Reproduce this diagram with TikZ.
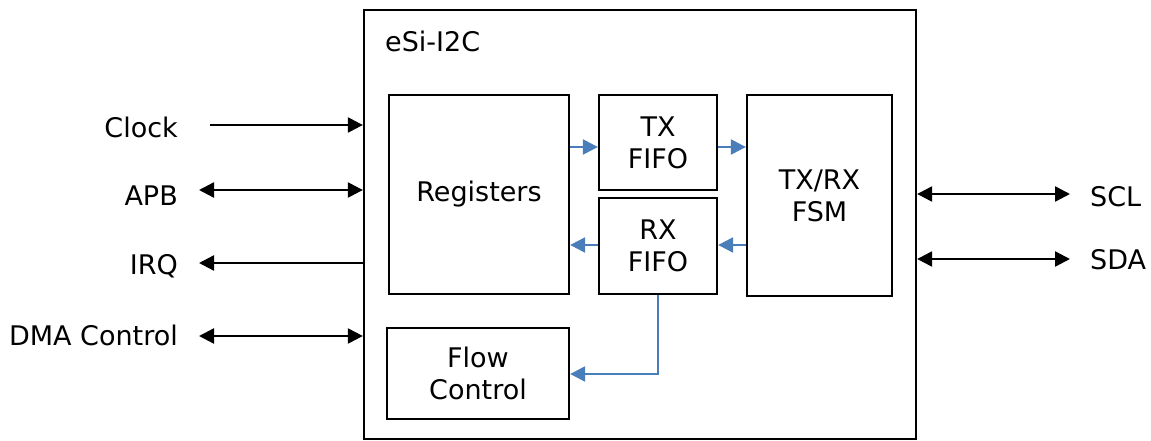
\documentclass[tikz,border=0pt]{standalone}
\usepackage{fontspec}
\setmainfont{DejaVu Sans}
\usetikzlibrary{arrows.meta}
\definecolor{flowblue}{RGB}{74,126,187}
\begin{document}
\begin{tikzpicture}[x=1pt,y=-1pt,
  every node/.style={font=\fontsize{27}{32}\selectfont, inner sep=0pt},
  blk/.style={draw=black, line width=2.3pt, align=center, fill=white},
  lbl/.style={anchor=east},
  rlbl/.style={anchor=west},
  sig/.style={draw=black, line width=2.3pt, -{Triangle[length=15pt,width=15pt]}},
  bsig/.style={draw=black, line width=2.3pt, {Triangle[length=15pt,width=15pt]}-{Triangle[length=15pt,width=15pt]}},
  flow/.style={draw=flowblue, line width=2.3pt, -{Triangle[length=15pt,width=15pt]}}
]
\useasboundingbox (0,0) rectangle (1151,441);
% outer block
\node[blk, minimum width=552pt, minimum height=429pt] (esi) at (640,224.5) {};
\node[anchor=west] (title) at (385,41) {eSi-I2C};
% inner blocks
\node[blk, minimum width=180pt, minimum height=199pt] (reg) at (479,194.5) {Registers};
\node[blk, minimum width=118pt, minimum height=95pt] (tx) at (658,142.5) {TX\\FIFO};
\node[blk, minimum width=118pt, minimum height=96pt] (rx) at (658,246) {RX\\FIFO};
\node[blk, minimum width=145pt, minimum height=201pt] (fsm) at (819.5,195.5) {TX/RX\\FSM};
\node[blk, minimum width=182pt, minimum height=91pt] (fc) at (478,373.5) {Flow\\Control};
% internal flows
\draw[flow] (reg.east |- 0,147) -- (tx.west |- 0,147);
\draw[flow] (tx.east |- 0,147) -- (fsm.west |- 0,147);
\draw[flow] (fsm.west |- 0,245) -- (rx.east |- 0,245);
\draw[flow] (rx.west |- 0,245) -- (reg.east |- 0,245);
\draw[flow] (rx.south) |- (fc.east |- 0,374);
% left signals
\node[lbl] (clock) at (178,127) {Clock};
\node[lbl] (apb) at (178,196) {APB};
\node[lbl] (irq) at (178,266) {IRQ};
\node[lbl] (dma) at (178,335) {DMA Control};
\coordinate (clkS) at (210,125);
\coordinate (apbS) at (199,190);
\coordinate (irqS) at (199,263);
\coordinate (dmaS) at (199,336);
\draw[sig] (clkS) -- (clkS -| esi.west);
\draw[bsig] (apbS) -- (apbS -| esi.west);
\draw[sig] (irqS -| esi.west) -- (irqS);
\draw[bsig] (dmaS) -- (dmaS -| esi.west);
% right signals
\node[rlbl] (scl) at (1090,197) {SCL};
\node[rlbl] (sda) at (1090,260) {SDA};
\coordinate (sclE) at (1070,194);
\coordinate (sdaE) at (1070,259);
\draw[bsig] (sclE -| esi.east) -- (sclE);
\draw[bsig] (sdaE -| esi.east) -- (sdaE);
\end{tikzpicture}
\end{document}
